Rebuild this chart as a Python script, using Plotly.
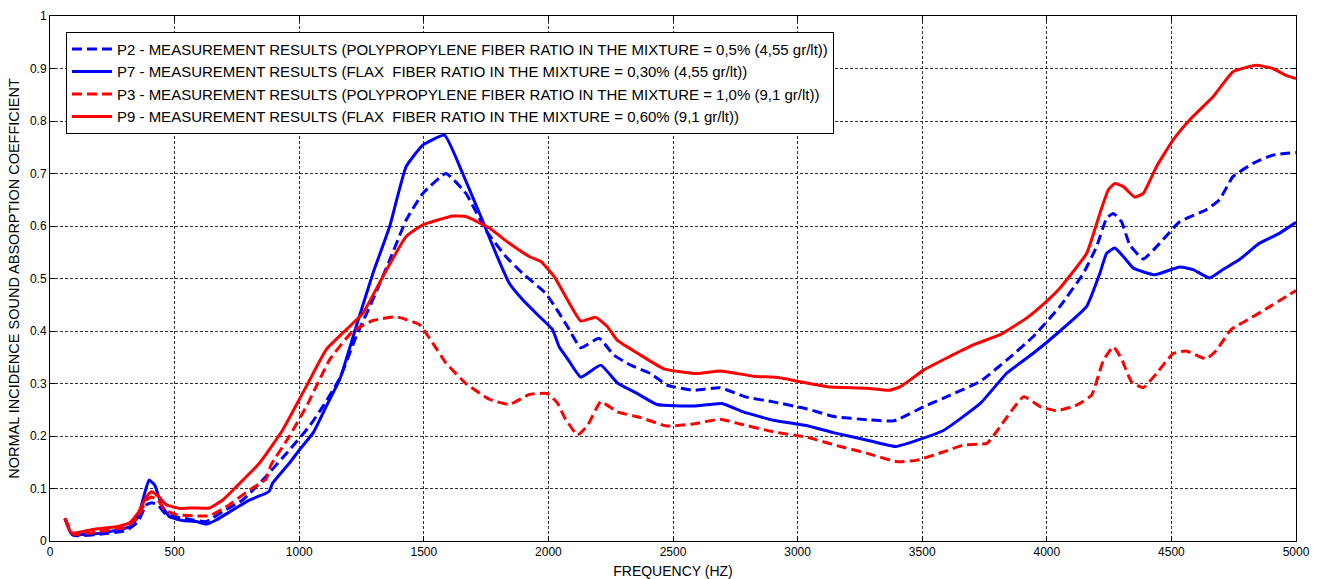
import plotly.graph_objects as go

# ---- data ----
p2_f = [60, 93, 200, 307, 353, 387, 407, 433, 460, 507, 573, 627, 693, 773, 867, 960, 1040, 1096, 1163, 1229, 1296, 1363, 1429, 1496, 1589, 1669, 1749, 1829, 1896, 1989, 2043, 2077, 2130, 2203, 2263, 2330, 2410, 2476, 2583, 2689, 2795, 2902, 3035, 3147, 3280, 3387, 3507, 3613, 3733, 3840, 3947, 4053, 4147, 4200, 4240, 4267, 4300, 4333, 4387, 4453, 4533, 4640, 4693, 4747, 4827, 4907, 5000]
p2_v = [0.043, 0.011, 0.013, 0.02, 0.037, 0.069, 0.073, 0.069, 0.053, 0.046, 0.04, 0.037, 0.056, 0.078, 0.123, 0.173, 0.218, 0.257, 0.31, 0.39, 0.46, 0.535, 0.611, 0.662, 0.70, 0.662, 0.592, 0.542, 0.51, 0.472, 0.434, 0.408, 0.368, 0.386, 0.354, 0.335, 0.319, 0.297, 0.287, 0.292, 0.274, 0.265, 0.252, 0.237, 0.231, 0.229, 0.256, 0.278, 0.304, 0.345, 0.39, 0.447, 0.51, 0.561, 0.615, 0.624, 0.608, 0.564, 0.537, 0.567, 0.608, 0.631, 0.65, 0.694, 0.719, 0.735, 0.74]

p7_f = [60, 87, 160, 240, 320, 353, 380, 397, 420, 447, 480, 533, 587, 627, 667, 733, 800, 867, 880, 893, 960, 1003, 1056, 1109, 1163, 1229, 1296, 1363, 1429, 1496, 1583, 1656, 1736, 1789, 1843, 1896, 1963, 2016, 2043, 2077, 2130, 2210, 2277, 2356, 2436, 2583, 2696, 2782, 2902, 3035, 3147, 3280, 3393, 3493, 3587, 3733, 3840, 3947, 4053, 4160, 4213, 4240, 4273, 4307, 4347, 4433, 4533, 4587, 4653, 4707, 4773, 4853, 4933, 5000]
p7_v = [0.043, 0.013, 0.013, 0.018, 0.027, 0.046, 0.091, 0.116, 0.107, 0.069, 0.046, 0.039, 0.037, 0.032, 0.04, 0.059, 0.078, 0.091, 0.095, 0.11, 0.148, 0.175, 0.206, 0.257, 0.308, 0.409, 0.51, 0.599, 0.713, 0.754, 0.773, 0.70, 0.61, 0.548, 0.491, 0.46, 0.428, 0.403, 0.37, 0.347, 0.312, 0.335, 0.301, 0.281, 0.26, 0.257, 0.262, 0.246, 0.23, 0.22, 0.206, 0.192, 0.18, 0.194, 0.211, 0.262, 0.32, 0.358, 0.40, 0.447, 0.51, 0.548, 0.558, 0.542, 0.52, 0.507, 0.522, 0.517, 0.501, 0.517, 0.536, 0.567, 0.586, 0.607]

p3_f = [60, 93, 200, 307, 353, 387, 407, 433, 460, 507, 573, 640, 707, 800, 867, 887, 960, 1033, 1123, 1216, 1296, 1389, 1483, 1536, 1589, 1669, 1763, 1843, 1923, 1996, 2036, 2064, 2117, 2157, 2210, 2277, 2370, 2476, 2583, 2689, 2769, 2902, 3035, 3147, 3280, 3400, 3480, 3587, 3667, 3760, 3813, 3907, 3973, 4040, 4120, 4180, 4227, 4267, 4300, 4340, 4387, 4440, 4507, 4560, 4640, 4680, 4740, 4813, 4893, 5000]
p3_v = [0.043, 0.013, 0.018, 0.027, 0.046, 0.078, 0.084, 0.078, 0.059, 0.05, 0.048, 0.048, 0.065, 0.097, 0.118, 0.145, 0.199, 0.26, 0.346, 0.40, 0.42, 0.427, 0.412, 0.377, 0.339, 0.30, 0.27, 0.26, 0.279, 0.281, 0.263, 0.236, 0.202, 0.22, 0.265, 0.246, 0.235, 0.219, 0.223, 0.232, 0.223, 0.208, 0.198, 0.183, 0.167, 0.151, 0.154, 0.17, 0.183, 0.186, 0.218, 0.275, 0.256, 0.248, 0.259, 0.278, 0.344, 0.37, 0.347, 0.303, 0.292, 0.319, 0.357, 0.362, 0.347, 0.363, 0.403, 0.423, 0.446, 0.477]

p9_f = [60, 87, 173, 267, 320, 353, 387, 407, 433, 467, 520, 573, 640, 693, 747, 840, 933, 1029, 1109, 1203, 1256, 1336, 1429, 1496, 1616, 1669, 1763, 1843, 1923, 1971, 2024, 2077, 2130, 2190, 2237, 2277, 2370, 2463, 2596, 2689, 2822, 2928, 3035, 3120, 3280, 3367, 3413, 3507, 3613, 3707, 3813, 3920, 4000, 4053, 4160, 4213, 4247, 4273, 4307, 4353, 4387, 4440, 4507, 4573, 4667, 4747, 4840, 4907, 4960, 5000]
p9_v = [0.043, 0.015, 0.022, 0.027, 0.035, 0.053, 0.084, 0.094, 0.086, 0.069, 0.062, 0.063, 0.063, 0.078, 0.103, 0.148, 0.211, 0.295, 0.365, 0.409, 0.434, 0.504, 0.58, 0.602, 0.619, 0.618, 0.596, 0.567, 0.542, 0.532, 0.503, 0.459, 0.419, 0.426, 0.408, 0.382, 0.354, 0.328, 0.319, 0.324, 0.314, 0.311, 0.301, 0.294, 0.291, 0.287, 0.294, 0.326, 0.352, 0.374, 0.393, 0.425, 0.457, 0.482, 0.548, 0.624, 0.669, 0.681, 0.675, 0.655, 0.662, 0.713, 0.764, 0.802, 0.846, 0.894, 0.906, 0.90, 0.887, 0.881]

names = [
    "P2 - MEASUREMENT RESULTS (POLYPROPYLENE FIBER RATIO IN THE MIXTURE = 0,5% (4,55 gr/lt))",
    "P7 - MEASUREMENT RESULTS (FLAX  FIBER RATIO IN THE MIXTURE = 0,30% (4,55 gr/lt))",
    "P3 - MEASUREMENT RESULTS (POLYPROPYLENE FIBER RATIO IN THE MIXTURE = 1,0% (9,1 gr/lt))",
    "P9 - MEASUREMENT RESULTS (FLAX  FIBER RATIO IN THE MIXTURE = 0,60% (9,1 gr/lt))",
]

x_ticks = [0, 500, 1000, 1500, 2000, 2500, 3000, 3500, 4000, 4500, 5000]
x_ticktext = ["0", "500", "1000", "1500", "2000", "2500", "3000", "3500", "4000", "4500", "5000"]
y_ticks = [0, 0.1, 0.2, 0.3, 0.4, 0.5, 0.6, 0.7, 0.8, 0.9, 1]
y_ticktext = ["0", "0.1", "0.2", "0.3", "0.4", "0.5", "0.6", "0.7", "0.8", "0.9", "1"]

BLUE = "#0000ff"
RED = "#ff0000"
DASH = "10px,5px"

fig = go.Figure()
series = [
    (p2_f, p2_v, names[0], BLUE, DASH),
    (p7_f, p7_v, names[1], BLUE, "solid"),
    (p3_f, p3_v, names[2], RED, DASH),
    (p9_f, p9_v, names[3], RED, "solid"),
]
for f, v, n, c, d in series:
    fig.add_trace(go.Scatter(x=f, y=v, name=n, mode="lines",
                             line=dict(color=c, width=3, dash=d, shape="spline", smoothing=0.4)))

font = "Liberation Sans, Arial, sans-serif"
axis_common = dict(
    showline=True, linecolor="black", linewidth=1, mirror="ticks",
    ticks="inside", ticklen=5, tickcolor="black",
    showgrid=True, gridcolor="#333333", gridwidth=1, griddash="3px,2px",
    zeroline=False, tickfont=dict(family=font, size=12, color="black"),
    automargin=False,
)
fig.update_layout(
    width=1320, height=579,
    margin=dict(l=50, r=24, t=16, b=38),
    paper_bgcolor="white", plot_bgcolor="white",
    font=dict(family=font, size=12, color="black"),
    showlegend=True,
    legend=dict(x=0.0128, y=0.97, xanchor="left", yanchor="top",
                bgcolor="white", bordercolor="black", borderwidth=1,
                font=dict(family=font, size=15, color="black"),
                tracegroupgap=0, itemwidth=40),
    xaxis=dict(range=[0, 5000], tickvals=x_ticks, ticktext=x_ticktext,
               title=dict(text="FREQUENCY (HZ)", font=dict(family=font, size=14), standoff=8),
               **axis_common),
    yaxis=dict(range=[0, 1], tickvals=y_ticks, ticktext=y_ticktext,
               title=dict(text="NORMAL INCIDENCE SOUND ABSORPTION COEFFICIENT", font=dict(family=font, size=14.5), standoff=6),
               **axis_common),
)

fig.write_html("out.html")
